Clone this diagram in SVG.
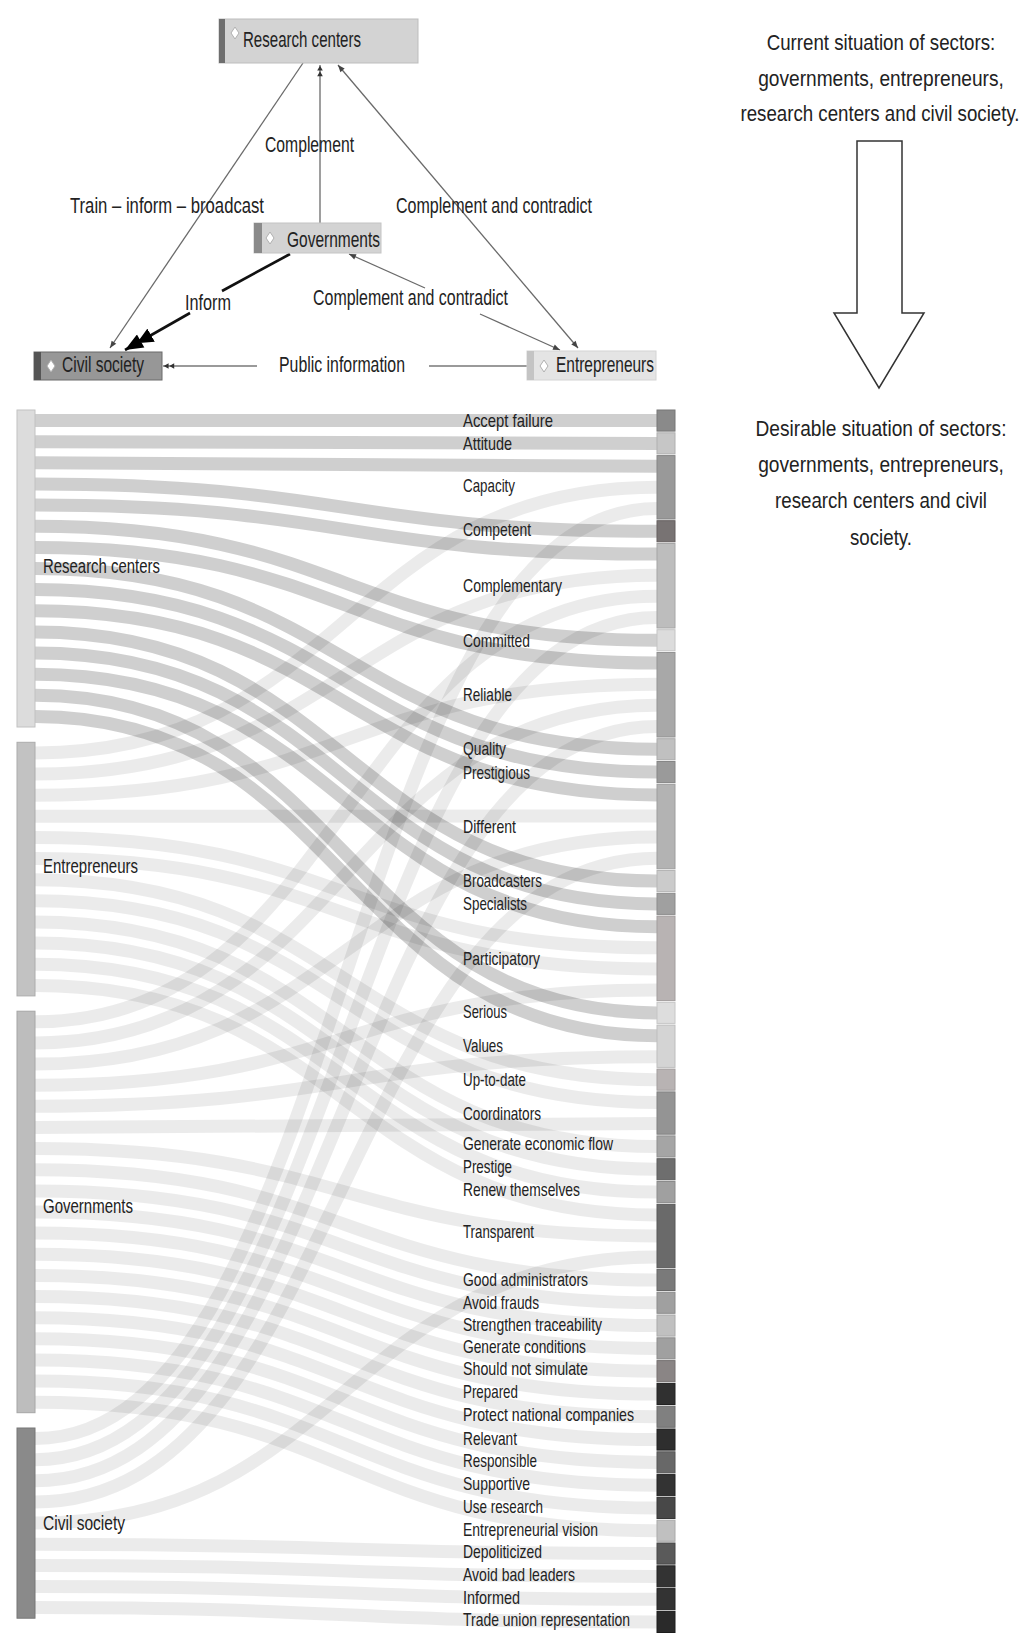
<svg xmlns="http://www.w3.org/2000/svg" width="1022" height="1633" viewBox="0 0 1022 1633">
<style>
text{font-family:"Liberation Sans Narrow","Liberation Sans",Arial,sans-serif;fill:#222;}
.cap{font-family:"Liberation Sans",Arial,sans-serif;font-size:22px;}
.t22{font-size:22px;}
.t20{font-size:20px;}
.t19{font-size:19px;}
.edge{fill:none;stroke:#6a6a6a;stroke-width:1.3;}
.lr{fill:none;stroke:#000;stroke-opacity:0.19;stroke-width:13;}
.lo{fill:none;stroke:#000;stroke-opacity:0.08;stroke-width:13;}
.dia{fill:#fff;stroke:#b0b0b0;stroke-width:1;}
</style>
<defs>
<marker id="ah" viewBox="0 0 10 10" refX="10" refY="5" markerWidth="9" markerHeight="7" markerUnits="userSpaceOnUse" orient="auto-start-reverse"><path d="M0,1L10,5L0,9z" fill="#444"/></marker>
<marker id="dbl" viewBox="0 0 16 10" refX="16" refY="5" markerWidth="12" markerHeight="7" markerUnits="userSpaceOnUse" orient="auto"><path d="M0,1L7,5L0,9zM8,1L15,5L8,9z" fill="#333"/></marker>
<marker id="big" viewBox="0 0 20 10" refX="20" refY="5" markerWidth="30" markerHeight="15" markerUnits="userSpaceOnUse" orient="auto"><path d="M0,0L11,5L0,10zM8,0L20,5L8,10z" fill="#000"/></marker>
</defs>
<rect width="1022" height="1633" fill="#fff"/>

<!-- top graph connectors -->
<g id="connectors">
<line class="edge" x1="303" y1="63" x2="110" y2="348" marker-end="url(#ah)"/>
<line class="edge" x1="320" y1="223" x2="320" y2="65" marker-end="url(#dbl)"/>
<line class="edge" x1="338" y1="65" x2="578" y2="348" marker-start="url(#ah)" marker-end="url(#ah)"/>
<line x1="290" y1="254" x2="222" y2="291" stroke="#111" stroke-width="2.6"/>
<line x1="190" y1="313" x2="125" y2="350" stroke="#111" stroke-width="2.6" marker-end="url(#big)"/>
<line class="edge" x1="349" y1="254" x2="425" y2="288" marker-start="url(#ah)"/>
<line class="edge" x1="480" y1="314" x2="560" y2="350" marker-end="url(#ah)"/>
<line x1="527" y1="366" x2="429" y2="366" stroke="#9a9a9a" stroke-width="2"/>
<line x1="257" y1="366" x2="163" y2="366" stroke="#9a9a9a" stroke-width="2" marker-end="url(#dbl)"/>
<text class="t22" x="265" y="152" textLength="89" lengthAdjust="spacingAndGlyphs">Complement</text>
<text class="t22" x="70" y="213" textLength="194" lengthAdjust="spacingAndGlyphs">Train – inform – broadcast</text>
<text class="t22" x="396" y="213" textLength="196" lengthAdjust="spacingAndGlyphs">Complement and contradict</text>
<text class="t22" x="185" y="310" textLength="46" lengthAdjust="spacingAndGlyphs">Inform</text>
<text class="t22" x="313" y="305" textLength="195" lengthAdjust="spacingAndGlyphs">Complement and contradict</text>
<text class="t22" x="279" y="372" textLength="126" lengthAdjust="spacingAndGlyphs">Public information</text>
</g>

<g id="node-research-centers">
<rect x="219" y="19" width="199" height="44" fill="#d3d3d3" stroke="#bdbdbd"/>
<rect x="219" y="19" width="6" height="44" fill="#6e6e6e"/>
<polygon class="dia" points="235,27 239,33 235,39 231,33"/>
<text class="t22" x="243" y="47" textLength="118" lengthAdjust="spacingAndGlyphs">Research centers</text>
</g>
<g id="node-governments">
<rect x="254" y="223" width="127" height="30" fill="#d3d3d3" stroke="#c4c4c4"/>
<rect x="254" y="223" width="8" height="30" fill="#8a8a8a"/>
<polygon class="dia" points="270,232 274,238 270,244 266,238"/>
<text class="t22" x="287" y="247" textLength="93" lengthAdjust="spacingAndGlyphs">Governments</text>
</g>
<g id="node-civil-society">
<rect x="34" y="352" width="128" height="28" fill="#979797" stroke="#6a6a6a"/>
<rect x="34" y="352" width="7" height="28" fill="#555"/>
<polygon class="dia" points="51,360 55,366 51,372 47,366"/>
<text class="t22" x="62" y="372" textLength="82" lengthAdjust="spacingAndGlyphs">Civil society</text>
</g>
<g id="node-entrepreneurs">
<rect x="527" y="351" width="129" height="29" fill="#e4e4e4" stroke="#d4d4d4"/>
<rect x="527" y="351" width="7" height="29" fill="#c4c4c4"/>
<polygon class="dia" points="544,360 548,366 544,372 540,366"/>
<text class="t22" x="556" y="372" textLength="98" lengthAdjust="spacingAndGlyphs">Entrepreneurs</text>
</g>

<!-- right side caption and arrow -->
<g id="caption-current">
<text class="cap" transform="translate(881,50) scale(0.85,1)" text-anchor="middle">Current situation of sectors:</text>
<text class="cap" transform="translate(881,86) scale(0.87,1)" text-anchor="middle">governments, entrepreneurs,</text>
<text class="cap" transform="translate(880,121) scale(0.85,1)" text-anchor="middle">research centers and civil society.</text>
</g>
<g id="big-arrow">
<polygon points="857,141 902,141 902,313 924,313 879,388 834,313 857,313" fill="#fff" stroke="#333" stroke-width="1.5"/>
</g>
<g id="caption-desirable">
<text class="cap" transform="translate(881,436) scale(0.87,1)" text-anchor="middle">Desirable situation of sectors:</text>
<text class="cap" transform="translate(881,472) scale(0.87,1)" text-anchor="middle">governments, entrepreneurs,</text>
<text class="cap" transform="translate(881,508) scale(0.85,1)" text-anchor="middle">research centers and civil</text>
<text class="cap" transform="translate(881,545) scale(0.85,1)" text-anchor="middle">society.</text>
</g>

<!-- sankey links -->
<g id="sankey-links">
<path class="lr" d="M35,420.6C346,420.6 346,420.6 657,420.6"/>
<path class="lr" d="M35,441.7C346,441.7 346,443.4 657,443.4"/>
<path class="lr" d="M35,462.8C346,462.8 346,466.2 657,466.2"/>
<path class="lr" d="M35,484.0C346,484.0 346,531.3 657,531.3"/>
<path class="lr" d="M35,505.1C346,505.1 346,554.1 657,554.1"/>
<path class="lr" d="M35,526.2C346,526.2 346,640.3 657,640.3"/>
<path class="lr" d="M35,547.4C346,547.4 346,663.1 657,663.1"/>
<path class="lr" d="M35,568.5C346,568.5 346,749.3 657,749.3"/>
<path class="lr" d="M35,589.6C346,589.6 346,772.1 657,772.1"/>
<path class="lr" d="M35,610.8C346,610.8 346,794.9 657,794.9"/>
<path class="lr" d="M35,631.9C346,631.9 346,881.1 657,881.1"/>
<path class="lr" d="M35,653.0C346,653.0 346,903.9 657,903.9"/>
<path class="lr" d="M35,674.2C346,674.2 346,926.7 657,926.7"/>
<path class="lr" d="M35,695.3C346,695.3 346,1012.9 657,1012.9"/>
<path class="lr" d="M35,716.4C346,716.4 346,1035.7 657,1035.7"/>

<path class="lo" d="M35,752.9C346,752.9 346,487.3 657,487.3"/>
<path class="lo" d="M35,774.0C346,774.0 346,575.2 657,575.2"/>
<path class="lo" d="M35,795.2C346,795.2 346,684.2 657,684.2"/>
<path class="lo" d="M35,816.3C346,816.3 346,816.0 657,816.0"/>
<path class="lo" d="M35,837.4C346,837.4 346,947.8 657,947.8"/>
<path class="lo" d="M35,858.6C346,858.6 346,968.9 657,968.9"/>
<path class="lo" d="M35,879.7C346,879.7 346,1079.7 657,1079.7"/>
<path class="lo" d="M35,900.8C346,900.8 346,1102.5 657,1102.5"/>
<path class="lo" d="M35,922.0C346,922.0 346,1146.5 657,1146.5"/>
<path class="lo" d="M35,943.1C346,943.1 346,1169.3 657,1169.3"/>
<path class="lo" d="M35,964.2C346,964.2 346,1192.1 657,1192.1"/>
<path class="lo" d="M35,985.4C346,985.4 346,1214.9 657,1214.9"/>

<path class="lo" d="M35,1021.8C346,1021.8 346,596.3 657,596.3"/>
<path class="lo" d="M35,1042.9C346,1042.9 346,705.3 657,705.3"/>
<path class="lo" d="M35,1064.1C346,1064.1 346,837.1 657,837.1"/>
<path class="lo" d="M35,1085.2C346,1085.2 346,990.0 657,990.0"/>
<path class="lo" d="M35,1106.3C346,1106.3 346,1056.8 657,1056.8"/>
<path class="lo" d="M35,1127.5C346,1127.5 346,1123.6 657,1123.6"/>
<path class="lo" d="M35,1148.6C346,1148.6 346,1236.0 657,1236.0"/>
<path class="lo" d="M35,1169.7C346,1169.7 346,1280.0 657,1280.0"/>
<path class="lo" d="M35,1190.9C346,1190.9 346,1302.8 657,1302.8"/>
<path class="lo" d="M35,1212.0C346,1212.0 346,1325.6 657,1325.6"/>
<path class="lo" d="M35,1233.1C346,1233.1 346,1348.4 657,1348.4"/>
<path class="lo" d="M35,1254.3C346,1254.3 346,1371.2 657,1371.2"/>
<path class="lo" d="M35,1275.4C346,1275.4 346,1394.0 657,1394.0"/>
<path class="lo" d="M35,1296.5C346,1296.5 346,1416.8 657,1416.8"/>
<path class="lo" d="M35,1317.7C346,1317.7 346,1439.6 657,1439.6"/>
<path class="lo" d="M35,1338.8C346,1338.8 346,1462.4 657,1462.4"/>
<path class="lo" d="M35,1359.9C346,1359.9 346,1485.2 657,1485.2"/>
<path class="lo" d="M35,1381.1C346,1381.1 346,1508.0 657,1508.0"/>
<path class="lo" d="M35,1402.2C346,1402.2 346,1530.8 657,1530.8"/>

<path class="lo" d="M35,1438.6C346,1438.6 346,508.4 657,508.4"/>
<path class="lo" d="M35,1459.7C346,1459.7 346,617.4 657,617.4"/>
<path class="lo" d="M35,1480.8C346,1480.8 346,726.4 657,726.4"/>
<path class="lo" d="M35,1502.0C346,1502.0 346,858.3 657,858.3"/>
<path class="lo" d="M35,1523.1C346,1523.1 346,1257.1 657,1257.1"/>
<path class="lo" d="M35,1544.2C346,1544.2 346,1553.6 657,1553.6"/>
<path class="lo" d="M35,1565.4C346,1565.4 346,1576.4 657,1576.4"/>
<path class="lo" d="M35,1586.5C346,1586.5 346,1599.2 657,1599.2"/>
<path class="lo" d="M35,1607.6C346,1607.6 346,1622.0 657,1622.0"/>
</g>

<!-- sankey left nodes -->
<g id="s-research-centers"><rect x="17" y="410" width="18" height="317" fill="#dcdcdc" stroke="#c2c2c2"/><text class="t20" x="43" y="573" textLength="117" lengthAdjust="spacingAndGlyphs">Research centers</text></g>
<g id="s-entrepreneurs"><rect x="17" y="742.3" width="18" height="253.6" fill="#c2c2c2" stroke="#acacac"/><text class="t20" x="43" y="873" textLength="95" lengthAdjust="spacingAndGlyphs">Entrepreneurs</text></g>
<g id="s-governments"><rect x="17" y="1011.2" width="18" height="401.5" fill="#bdbdbd" stroke="#a6a6a6"/><text class="t20" x="43" y="1213" textLength="90" lengthAdjust="spacingAndGlyphs">Governments</text></g>
<g id="s-civil-society"><rect x="17" y="1428" width="18" height="190.2" fill="#8a8a8a" stroke="#777"/><text class="t20" x="43" y="1530" textLength="82" lengthAdjust="spacingAndGlyphs">Civil society</text></g>

<!-- sankey right nodes -->
<g id="r-accept-failure"><rect x="657" y="410" width="18" height="21.1" fill="#8a8a8a" stroke="#777"/><text class="t19" x="463" y="427" textLength="90" lengthAdjust="spacingAndGlyphs">Accept failure</text></g>
<g id="r-attitude"><rect x="657" y="432.8" width="18" height="21.1" fill="#c6c6c6" stroke="#b0b0b0"/><text class="t19" x="463" y="450" textLength="49" lengthAdjust="spacingAndGlyphs">Attitude</text></g>
<g id="r-capacity"><rect x="657" y="455.6" width="18" height="63.4" fill="#999" stroke="#858585"/><text class="t19" x="463" y="492" textLength="52" lengthAdjust="spacingAndGlyphs">Capacity</text></g>
<g id="r-competent"><rect x="657" y="520.7" width="18" height="21.1" fill="#787373" stroke="#655f5f"/><text class="t19" x="463" y="536" textLength="68" lengthAdjust="spacingAndGlyphs">Competent</text></g>
<g id="r-complementary"><rect x="657" y="543.5" width="18" height="84.5" fill="#bdbdbd" stroke="#a6a6a6"/><text class="t19" x="463" y="592" textLength="99" lengthAdjust="spacingAndGlyphs">Complementary</text></g>
<g id="r-committed"><rect x="657" y="629.7" width="18" height="21.1" fill="#dcdcdc" stroke="#c4c4c4"/><text class="t19" x="463" y="647" textLength="67" lengthAdjust="spacingAndGlyphs">Committed</text></g>
<g id="r-reliable"><rect x="657" y="652.5" width="18" height="84.5" fill="#a8a8a8" stroke="#939393"/><text class="t19" x="463" y="701" textLength="49" lengthAdjust="spacingAndGlyphs">Reliable</text></g>
<g id="r-quality"><rect x="657" y="738.7" width="18" height="21.1" fill="#c0c0c0" stroke="#aaa"/><text class="t19" x="463" y="755" textLength="43" lengthAdjust="spacingAndGlyphs">Quality</text></g>
<g id="r-prestigious"><rect x="657" y="761.5" width="18" height="21.1" fill="#9a9a9a" stroke="#868686"/><text class="t19" x="463" y="779" textLength="67" lengthAdjust="spacingAndGlyphs">Prestigious</text></g>
<g id="r-different"><rect x="657" y="784.3" width="18" height="84.5" fill="#b3b3b3" stroke="#9d9d9d"/><text class="t19" x="463" y="833" textLength="53" lengthAdjust="spacingAndGlyphs">Different</text></g>
<g id="r-broadcasters"><rect x="657" y="870.5" width="18" height="21.1" fill="#cbcbcb" stroke="#b5b5b5"/><text class="t19" x="463" y="887" textLength="79" lengthAdjust="spacingAndGlyphs">Broadcasters</text></g>
<g id="r-specialists"><rect x="657" y="893.3" width="18" height="21.1" fill="#a0a0a0" stroke="#8b8b8b"/><text class="t19" x="463" y="910" textLength="64" lengthAdjust="spacingAndGlyphs">Specialists</text></g>
<g id="r-participatory"><rect x="657" y="916.1" width="18" height="84.5" fill="#b8b3b3" stroke="#a29d9d"/><text class="t19" x="463" y="965" textLength="77" lengthAdjust="spacingAndGlyphs">Participatory</text></g>
<g id="r-serious"><rect x="657" y="1002.3" width="18" height="21.1" fill="#dddddd" stroke="#c6c6c6"/><text class="t19" x="463" y="1018" textLength="44" lengthAdjust="spacingAndGlyphs">Serious</text></g>
<g id="r-values"><rect x="657" y="1025.1" width="18" height="42.3" fill="#d4d4d4" stroke="#bdbdbd"/><text class="t19" x="463" y="1052" textLength="40" lengthAdjust="spacingAndGlyphs">Values</text></g>
<g id="r-up-to-date"><rect x="657" y="1069.1" width="18" height="21.1" fill="#b8b3b3" stroke="#a29d9d"/><text class="t19" x="463" y="1086" textLength="63" lengthAdjust="spacingAndGlyphs">Up-to-date</text></g>
<g id="r-coordinators"><rect x="657" y="1091.9" width="18" height="42.3" fill="#949494" stroke="#808080"/><text class="t19" x="463" y="1120" textLength="78" lengthAdjust="spacingAndGlyphs">Coordinators</text></g>
<g id="r-generate-economic-flow"><rect x="657" y="1135.9" width="18" height="21.1" fill="#a5a5a5" stroke="#909090"/><text class="t19" x="463" y="1150" textLength="150" lengthAdjust="spacingAndGlyphs">Generate economic flow</text></g>
<g id="r-prestige"><rect x="657" y="1158.7" width="18" height="21.1" fill="#6e6e6e" stroke="#5c5c5c"/><text class="t19" x="463" y="1173" textLength="49" lengthAdjust="spacingAndGlyphs">Prestige</text></g>
<g id="r-renew-themselves"><rect x="657" y="1181.5" width="18" height="21.1" fill="#a0a0a0" stroke="#8b8b8b"/><text class="t19" x="463" y="1196" textLength="117" lengthAdjust="spacingAndGlyphs">Renew themselves</text></g>
<g id="r-transparent"><rect x="657" y="1204.3" width="18" height="63.4" fill="#6a6a6a" stroke="#585858"/><text class="t19" x="463" y="1238" textLength="71" lengthAdjust="spacingAndGlyphs">Transparent</text></g>
<g id="r-good-administrators"><rect x="657" y="1269.4" width="18" height="21.1" fill="#7a7a7a" stroke="#676767"/><text class="t19" x="463" y="1286" textLength="125" lengthAdjust="spacingAndGlyphs">Good administrators</text></g>
<g id="r-avoid-frauds"><rect x="657" y="1292.2" width="18" height="21.1" fill="#a0a0a0" stroke="#8b8b8b"/><text class="t19" x="463" y="1309" textLength="76" lengthAdjust="spacingAndGlyphs">Avoid frauds</text></g>
<g id="r-strengthen-traceability"><rect x="657" y="1315" width="18" height="21.1" fill="#c0c0c0" stroke="#aaa"/><text class="t19" x="463" y="1331" textLength="139" lengthAdjust="spacingAndGlyphs">Strengthen traceability</text></g>
<g id="r-generate-conditions"><rect x="657" y="1337.8" width="18" height="21.1" fill="#a0a0a0" stroke="#8b8b8b"/><text class="t19" x="463" y="1353" textLength="123" lengthAdjust="spacingAndGlyphs">Generate conditions</text></g>
<g id="r-should-not-simulate"><rect x="657" y="1360.6" width="18" height="21.1" fill="#8a8585" stroke="#767171"/><text class="t19" x="463" y="1375" textLength="125" lengthAdjust="spacingAndGlyphs">Should not simulate</text></g>
<g id="r-prepared"><rect x="657" y="1383.4" width="18" height="21.1" fill="#303030" stroke="#222"/><text class="t19" x="463" y="1398" textLength="55" lengthAdjust="spacingAndGlyphs">Prepared</text></g>
<g id="r-protect-national-companies"><rect x="657" y="1406.2" width="18" height="21.1" fill="#808080" stroke="#6c6c6c"/><text class="t19" x="463" y="1421" textLength="171" lengthAdjust="spacingAndGlyphs">Protect national companies</text></g>
<g id="r-relevant"><rect x="657" y="1429" width="18" height="21.1" fill="#2e2e2e" stroke="#202020"/><text class="t19" x="463" y="1445" textLength="54" lengthAdjust="spacingAndGlyphs">Relevant</text></g>
<g id="r-responsible"><rect x="657" y="1451.8" width="18" height="21.1" fill="#686868" stroke="#555"/><text class="t19" x="463" y="1467" textLength="74" lengthAdjust="spacingAndGlyphs">Responsible</text></g>
<g id="r-supportive"><rect x="657" y="1474.6" width="18" height="21.1" fill="#333" stroke="#222"/><text class="t19" x="463" y="1490" textLength="67" lengthAdjust="spacingAndGlyphs">Supportive</text></g>
<g id="r-use-research"><rect x="657" y="1497.4" width="18" height="21.1" fill="#484848" stroke="#363636"/><text class="t19" x="463" y="1513" textLength="80" lengthAdjust="spacingAndGlyphs">Use research</text></g>
<g id="r-entrepreneurial-vision"><rect x="657" y="1520.2" width="18" height="21.1" fill="#c0c0c0" stroke="#aaa"/><text class="t19" x="463" y="1536" textLength="135" lengthAdjust="spacingAndGlyphs">Entrepreneurial vision</text></g>
<g id="r-depoliticized"><rect x="657" y="1543" width="18" height="21.1" fill="#5a5a5a" stroke="#474747"/><text class="t19" x="463" y="1558" textLength="79" lengthAdjust="spacingAndGlyphs">Depoliticized</text></g>
<g id="r-avoid-bad-leaders"><rect x="657" y="1565.8" width="18" height="21.1" fill="#333" stroke="#222"/><text class="t19" x="463" y="1581" textLength="112" lengthAdjust="spacingAndGlyphs">Avoid bad leaders</text></g>
<g id="r-informed"><rect x="657" y="1588.6" width="18" height="21.1" fill="#333" stroke="#222"/><text class="t19" x="463" y="1604" textLength="57" lengthAdjust="spacingAndGlyphs">Informed</text></g>
<g id="r-trade-union-representation"><rect x="657" y="1611.4" width="18" height="21.1" fill="#2a2a2a" stroke="#1c1c1c"/><text class="t19" x="463" y="1626" textLength="167" lengthAdjust="spacingAndGlyphs">Trade union representation</text></g>
</svg>
